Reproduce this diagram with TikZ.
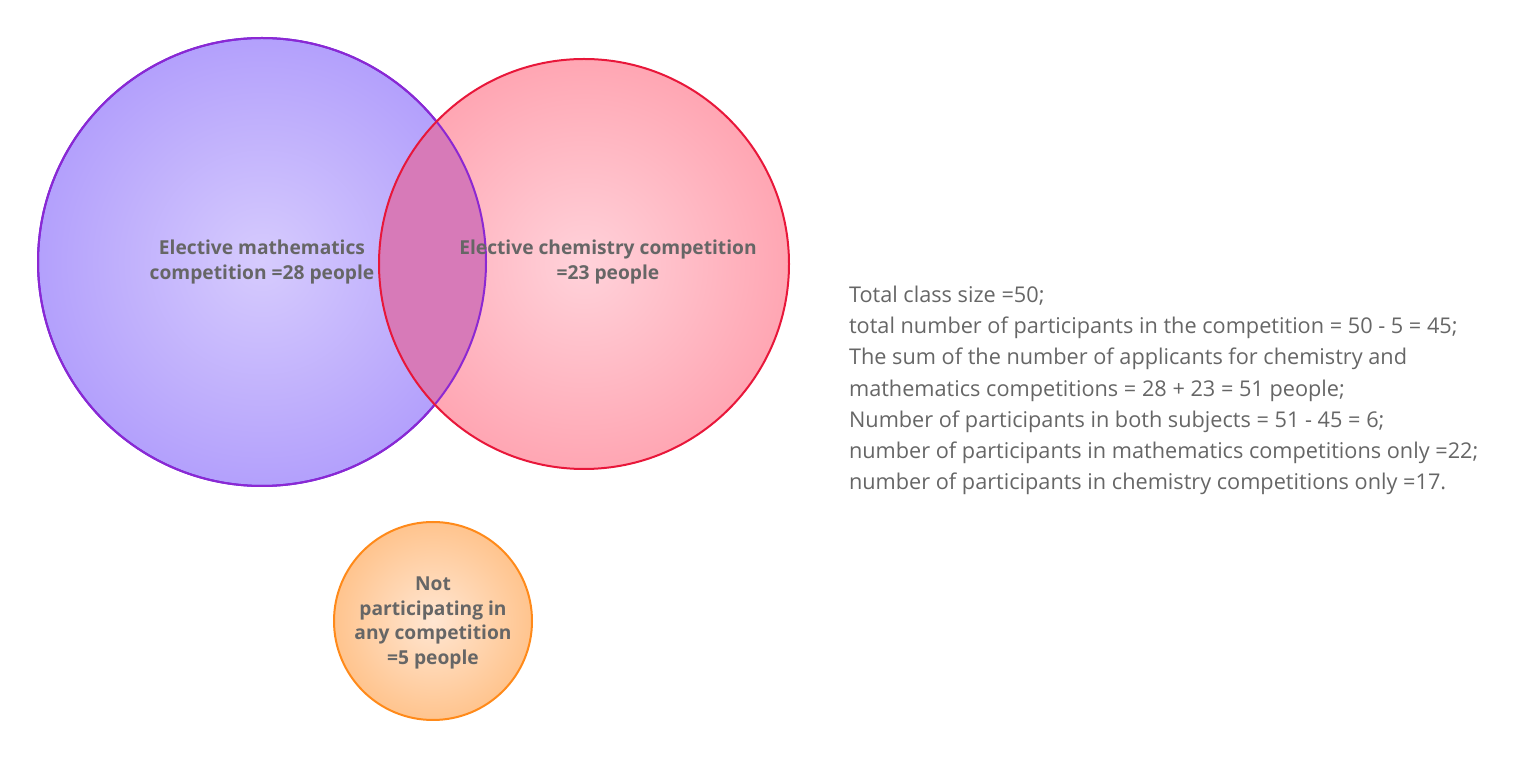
\documentclass[tikz,border=0pt]{standalone}
\usepackage{fontspec}
\setmainfont{Open Sans}
\definecolor{txt}{HTML}{666666}
\definecolor{lap}{HTML}{D77AB8}
\begin{document}
\begin{tikzpicture}[x=0.5pt,y=-0.5pt]
\useasboundingbox (0,0) rectangle (1522,758);
\tikzset{lbl/.style={text=txt,font=\fontsize{9.6pt}{12.3pt}\selectfont\bfseries,align=center}}
\shade[inner color={rgb,255:red,214;green,203;blue,253},outer color={rgb,255:red,179;green,160;blue,252}] (262,262) circle[radius=224];
\draw[line width=1pt,color={rgb,255:red,90;green,30;blue,230}] (262,262) circle[radius=224];
\shade[inner color={rgb,255:red,255;green,210;blue,218},outer color={rgb,255:red,255;green,166;blue,179}] (584,264) circle[radius=205];
\begin{scope}
\clip (262,262) circle[radius=224];
\fill[lap] (584,264) circle[radius=205];
\end{scope}
\draw[line width=1pt,color={rgb,255:red,140;green,40;blue,210}] (262,262) circle[radius=224];
\draw[line width=1pt,color={rgb,255:red,232;green,23;blue,58}] (584,264) circle[radius=205];
\shade[inner color={rgb,255:red,255;green,230;blue,210},outer color={rgb,255:red,255;green,196;blue,142}] (433,621) circle[radius=99];
\draw[line width=1pt,color={rgb,255:red,255;green,138;blue,26}] (433,621) circle[radius=99];
\node[lbl] (ml) at (262,262) {Elective mathematics\\competition =28 people};
\node[lbl] (cl) at (608,262) {Elective chemistry competition\\=23 people};
\node[lbl] (nl) at (433,623) {Not\\participating in\\any competition\\=5 people};
\node[anchor=north west,text=txt,align=left,font=\fontsize{10.85pt}{15.6pt}\selectfont] (t) at (842,279) {Total class size =50;\\
total number of participants in the competition = 50 - 5 = 45;\\
The sum of the number of applicants for chemistry and\\
mathematics competitions = 28 + 23 = 51 people;\\
Number of participants in both subjects = 51 - 45 = 6;\\
number of participants in mathematics competitions only =22;\\
number of participants in chemistry competitions only =17.};
\end{tikzpicture}
\end{document}
